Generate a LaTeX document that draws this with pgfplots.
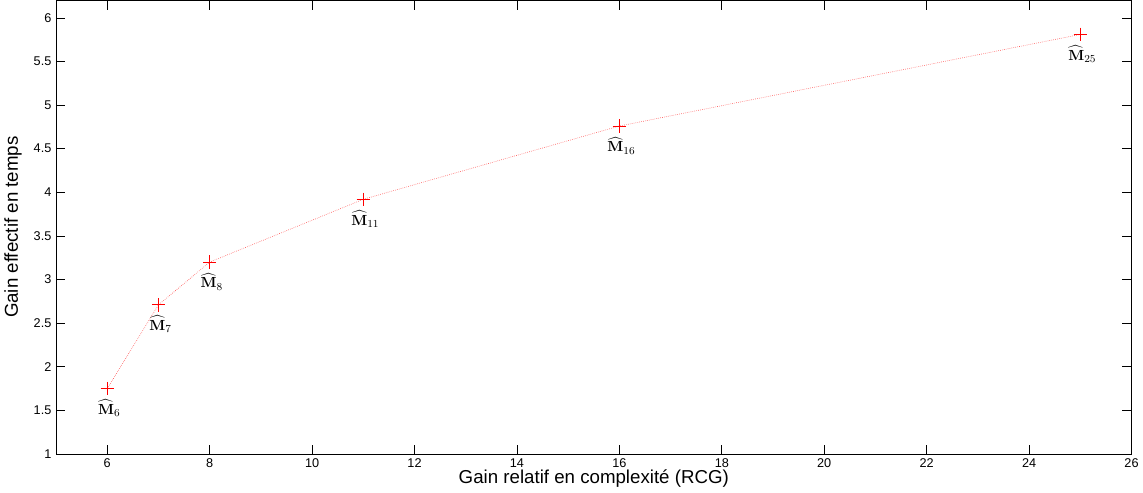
\documentclass[border=0pt]{standalone}
\usepackage{amsmath}
\usepackage[no-math]{fontspec}
\setmainfont{Liberation Sans}
\usepackage{pgfplots}
\pgfplotsset{compat=1.18}
\begin{document}
\begin{tikzpicture}
\begin{axis}[
  scale only axis,
  width=805.5pt, height=339.75pt,
  xmin=5, xmax=26, ymin=1, ymax=6.2,
  xtick={6,8,...,26},
  ytick={1,1.5,...,6},
  tick align=inside,
  major tick length=7pt,
  tick style={black, line width=0.5pt},
  axis line style={line width=0.6pt},
  /pgf/number format/assume math mode=true,
  ticklabel style={font=\fontsize{9.5}{10}\selectfont},
  yticklabel style={/pgf/number format/fixed},
  xlabel={Gain relatif en complexité (RCG)},
  ylabel={Gain effectif en temps},
  label style={font=\fontsize{14}{16}\selectfont},
  xlabel style={yshift=5pt},
  ylabel style={yshift=2pt},
]
\addplot[color=red!70, densely dotted, line width=0.45pt, mark=+, mark size=5pt,
  mark options={solid, draw=red, line width=0.7pt},
  point meta=explicit symbolic,
  nodes near coords={$\widehat{\mathbf{M}}_{\pgfplotspointmeta}$},
  every node near coord/.append style={anchor=north, text=black, inner sep=0pt, yshift=-8pt, xshift=1.5pt, font=\fontsize{11}{12}\selectfont}]
  table[meta=lab] {
  x y lab
  6 1.75 6
  7 2.71 7
  8 3.20 8
  11 3.92 11
  16 4.76 16
  25 5.81 25
  };
\end{axis}
\end{tikzpicture}
\end{document}
